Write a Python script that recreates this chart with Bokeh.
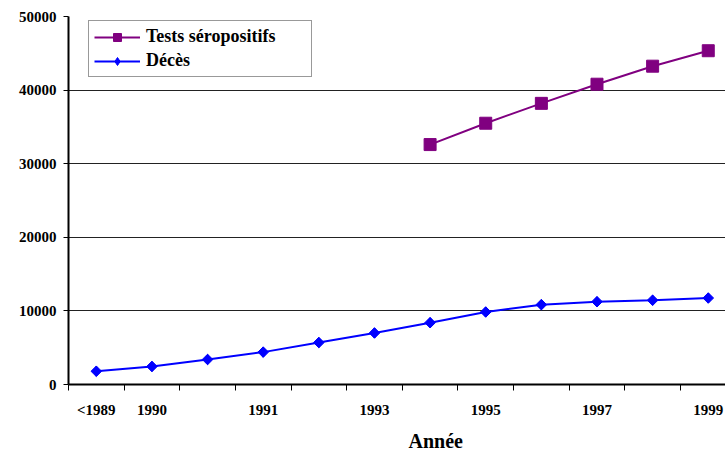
import math
from bokeh.plotting import figure
from bokeh.models import FixedTicker, Range1d, Legend, LegendItem, LinearAxis, ColumnDataSource
from bokeh.embed import file_html
from bokeh.resources import INLINE

# ---- data ----
x_index = [0, 1, 2, 3, 4, 5, 6, 7, 8, 9, 10, 11]
tick_positions = [0, 1, 3, 5, 7, 9, 11]
tick_labels = ["<1989", "1990", "1991", "1993", "1995", "1997", "1999"]
deces = [1800, 2450, 3400, 4400, 5700, 7000, 8400, 9850, 10850, 11250, 11450, 11750]
tests_x = [6, 7, 8, 9, 10, 11]
tests = [32600, 35500, 38200, 40800, 43250, 45350]
y_ticks = [0, 10000, 20000, 30000, 40000, 50000]
x_title = "Année"
x_title_pos = 6.1

FONT = "Liberation Serif"

p = figure(frame_width=657, frame_height=368, output_backend="svg", toolbar_location=None,
           x_range=Range1d(-0.5, 11.31), y_range=Range1d(0, 50000),
           min_border_left=68, min_border_right=0, min_border_top=16, min_border_bottom=69)
p.outline_line_color = None
p.background_fill_color = "white"
p.border_fill_color = "white"

# grid
p.xgrid.grid_line_color = None
p.ygrid.ticker = FixedTicker(ticks=y_ticks)
p.ygrid.grid_line_color = "#222222"
p.ygrid.grid_line_width = 1

# y axis
p.yaxis.ticker = FixedTicker(ticks=y_ticks)
p.yaxis.axis_line_color = "black"
p.yaxis.axis_line_width = 2
p.yaxis.major_tick_line_color = "black"
p.yaxis.major_tick_line_width = 1
p.yaxis.major_tick_out = 5
p.yaxis.major_tick_in = 0
p.yaxis.minor_tick_line_color = None
p.yaxis.major_label_standoff = 7
p.yaxis.major_label_text_font = FONT
p.yaxis.major_label_text_font_style = "bold"
p.yaxis.major_label_text_font_size = "15px"
p.yaxis.major_label_text_color = "black"

# x axis
minor = [i - 0.5 for i in range(13)]
xa = p.xaxis[0]
xa.ticker = FixedTicker(ticks=tick_positions, minor_ticks=minor)
xa.major_label_overrides = {pos: lab for pos, lab in zip(tick_positions, tick_labels)}
xa.axis_line_color = "black"
xa.axis_line_width = 2
xa.major_tick_line_color = None
xa.major_tick_out = 6
xa.major_tick_in = 0
xa.minor_tick_line_color = "black"
xa.minor_tick_line_width = 1
xa.minor_tick_out = 6
xa.minor_tick_in = 0
xa.major_label_standoff = 11
xa.major_label_text_font = FONT
xa.major_label_text_font_style = "bold"
xa.major_label_text_font_size = "15px"
xa.major_label_text_color = "black"

# axis title placed as a second, label-only axis
ta = LinearAxis(ticker=FixedTicker(ticks=[x_title_pos]),
                major_label_overrides={x_title_pos: x_title})
ta.axis_line_color = None
ta.major_tick_line_color = None
ta.minor_tick_line_color = None
ta.major_tick_out = 0
ta.major_tick_in = 0
ta.major_label_standoff = 9
ta.major_label_text_font = FONT
ta.major_label_text_font_style = "bold"
ta.major_label_text_font_size = "20px"
ta.major_label_text_color = "black"
p.add_layout(ta, "below")

# series
src_d = ColumnDataSource(dict(x=x_index, y=deces))
src_t = ColumnDataSource(dict(x=tests_x, y=tests))

lt = p.line("x", "y", source=src_t, line_color="#800080", line_width=2)
mt = p.scatter("x", "y", source=src_t, marker="square", size=12,
               fill_color="#800080", line_color="#800080")
ld = p.line("x", "y", source=src_d, line_color="#0000FF", line_width=2)
# diamond glyph used for the legend (hidden beneath the rotated squares in the plot)
md_leg = p.scatter("x", "y", source=src_d, marker="diamond", size=10,
                   fill_color="#0000FF", line_color="#0000FF")
md = p.scatter("x", "y", source=src_d, marker="square", size=7.5, angle=math.pi / 4,
               fill_color="#0000FF", line_color="#0000FF")

legend = Legend(items=[LegendItem(label="Tests séropositifs", renderers=[lt, mt]),
                       LegendItem(label="Décès", renderers=[ld, md_leg])],
                location=(20, 307))
legend.padding = 5
legend.spacing = 3
legend.margin = 0
legend.glyph_width = 46
legend.glyph_height = 20
legend.label_height = 20
legend.label_width = 160
legend.label_standoff = 6
legend.label_text_font = FONT
legend.label_text_font_style = "bold"
legend.label_text_font_size = "18px"
legend.label_text_color = "black"
legend.border_line_color = "#333333"
legend.border_line_width = 1
legend.background_fill_color = "white"
legend.background_fill_alpha = 1
p.add_layout(legend, "center")

open("out.html", "w").write(file_html(p, INLINE))
